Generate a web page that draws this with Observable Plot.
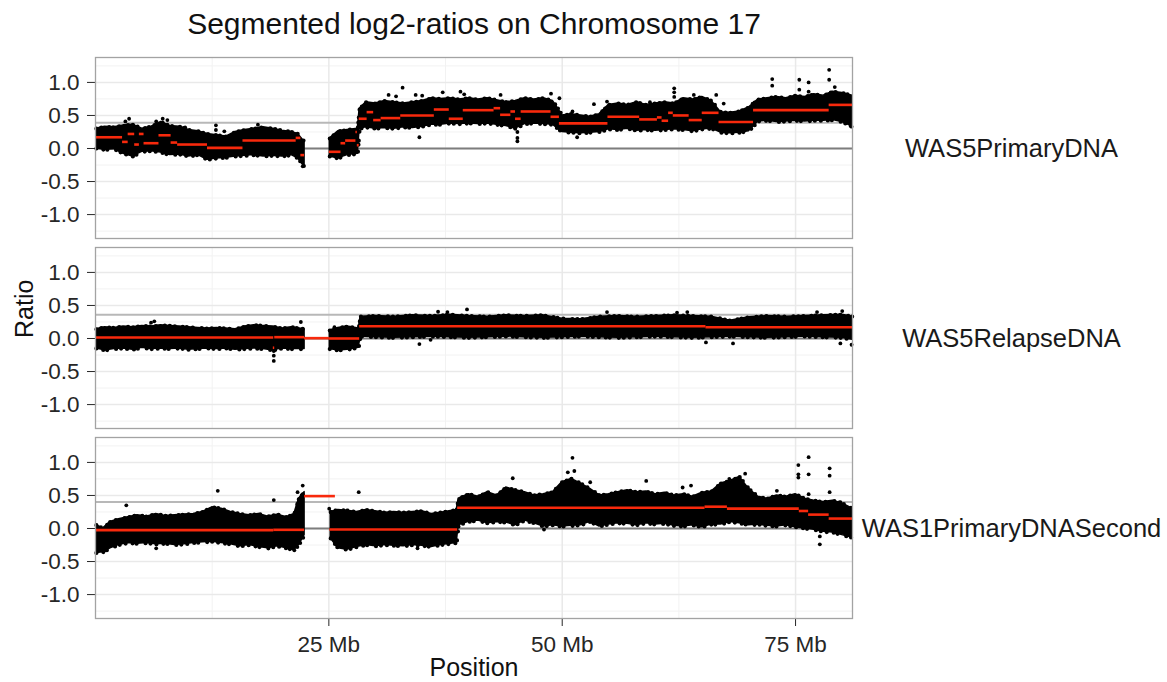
<!DOCTYPE html>
<html><head><meta charset="utf-8">
<script src="https://cdn.jsdelivr.net/npm/d3@7"></script>
<script src="https://cdn.jsdelivr.net/npm/@observablehq/plot@0.6"></script>
<style>body{margin:0;background:#fff}#chart{width:1167px;height:682px}</style>
</head><body><div id="chart"></div>
<script>
const titleText = "Segmented log2-ratios on Chromosome 17";
const xLabel = "Position";
const yLabel = "Ratio";
const samples = ["WAS5PrimaryDNA", "WAS5RelapseDNA", "WAS1PrimaryDNASecond"];
const xTicks = [25, 50, 75];
const yTicks = [-1, -0.5, 0, 0.5, 1];
const thresholds = [0.39, 0.36, 0.40];

// point-cloud envelope per sample: [Mb, upper edge, lower edge]; p arm and q arm
const primaryP = [[0.1,0.30,0.00],[1,0.33,-0.02],[2,0.32,-0.01],[3,0.35,-0.08],[4,0.36,-0.12],[5,0.30,-0.05],[6,0.33,-0.04],[7,0.40,-0.06],[8,0.34,-0.10],[9,0.33,-0.09],[10,0.28,-0.12],[11,0.26,-0.10],[12,0.22,-0.17],[13,0.20,-0.15],[14,0.18,-0.14],[15,0.25,-0.12],[16,0.28,-0.11],[17,0.30,-0.10],[18,0.32,-0.12],[19,0.30,-0.11],[20,0.27,-0.12],[21,0.25,-0.10],[21.7,0.22,-0.15],[22.4,0.10,-0.28]];
const primaryQ = [[25.1,0.15,-0.12],[26,0.26,-0.15],[27,0.28,-0.10],[28.1,0.30,-0.08],[28.3,0.60,0.30],[29,0.70,0.32],[30,0.68,0.30],[31,0.72,0.31],[32,0.70,0.30],[33,0.68,0.32],[34,0.70,0.31],[35,0.72,0.33],[36,0.76,0.36],[37,0.75,0.36],[38,0.76,0.38],[39,0.74,0.37],[40,0.76,0.38],[41,0.74,0.37],[42,0.76,0.38],[43,0.73,0.36],[44,0.70,0.34],[45,0.72,0.30],[46,0.76,0.37],[47,0.74,0.38],[48,0.76,0.37],[49,0.72,0.36],[49.8,0.55,0.27],[50,0.50,0.25],[51,0.52,0.24],[52,0.50,0.23],[53,0.48,0.24],[54,0.52,0.25],[55,0.66,0.29],[56,0.68,0.28],[57,0.66,0.30],[58,0.70,0.27],[59,0.66,0.28],[60,0.68,0.27],[61,0.70,0.28],[62,0.68,0.29],[63,0.76,0.28],[64,0.74,0.26],[65,0.78,0.29],[66,0.72,0.30],[67,0.55,0.24],[68,0.54,0.23],[69,0.56,0.24],[70,0.62,0.26],[71,0.74,0.41],[72,0.76,0.42],[73,0.78,0.40],[74,0.76,0.41],[75,0.80,0.42],[76,0.78,0.41],[77,0.82,0.42],[78,0.80,0.42],[79,0.86,0.43],[80,0.84,0.40],[81.1,0.80,0.33]];
const relapseP = [[0.1,0.14,-0.15],[1,0.17,-0.18],[2,0.16,-0.16],[3,0.18,-0.15],[4,0.17,-0.17],[5,0.19,-0.14],[6,0.18,-0.16],[7,0.20,-0.15],[8,0.19,-0.16],[9,0.18,-0.15],[10,0.17,-0.17],[11,0.16,-0.16],[12,0.15,-0.15],[13,0.16,-0.16],[14,0.15,-0.15],[15,0.14,-0.17],[16,0.18,-0.16],[17,0.20,-0.15],[18,0.19,-0.16],[19,0.18,-0.18],[20,0.15,-0.15],[21,0.17,-0.16],[22.4,0.14,-0.16]];
const relapseQ = [[25.1,0.12,-0.16],[26,0.16,-0.18],[27,0.18,-0.17],[28.2,0.15,-0.14],[28.4,0.33,0.03],[30,0.34,0.02],[32,0.33,0.01],[34,0.35,0.02],[36,0.34,0.03],[38,0.36,0.02],[40,0.34,0.01],[42,0.33,0.02],[44,0.35,0.03],[46,0.34,0.02],[48,0.35,0.01],[50,0.30,0.02],[52,0.29,0.03],[54,0.33,0.02],[56,0.34,0.01],[58,0.33,0.02],[60,0.34,0.03],[62,0.35,0.02],[64,0.34,0.01],[66,0.33,0.02],[68,0.27,0.03],[70,0.32,0.02],[72,0.34,0.01],[74,0.33,0.02],[76,0.34,0.03],[78,0.35,0.02],[80,0.36,0.01],[81.1,0.33,-0.02]];
const secondP = [[0.1,0.05,-0.37],[0.8,0.00,-0.36],[1.6,0.10,-0.30],[2.5,0.14,-0.25],[3.5,0.17,-0.22],[4.5,0.20,-0.23],[5.5,0.18,-0.22],[6.5,0.22,-0.24],[7.5,0.19,-0.23],[8.5,0.20,-0.25],[9.5,0.21,-0.24],[10.5,0.22,-0.22],[11.5,0.25,-0.21],[12.5,0.32,-0.20],[13.5,0.30,-0.22],[14.5,0.25,-0.24],[15.5,0.22,-0.27],[16.5,0.20,-0.25],[17.5,0.22,-0.28],[18.5,0.18,-0.30],[19.5,0.21,-0.27],[20.5,0.17,-0.30],[21.3,0.22,-0.33],[21.8,0.45,-0.25],[22.4,0.55,-0.10]];
const secondQ = [[25.2,0.25,-0.15],[26,0.28,-0.30],[27,0.27,-0.32],[28,0.25,-0.28],[29,0.28,-0.25],[30,0.26,-0.27],[31,0.24,-0.25],[32,0.25,-0.26],[33,0.24,-0.27],[34,0.25,-0.25],[35,0.26,-0.26],[36,0.22,-0.28],[37,0.24,-0.25],[38.7,0.28,-0.22],[38.9,0.45,0.05],[40,0.52,0.10],[41,0.48,0.12],[42,0.55,0.08],[43,0.50,0.10],[44,0.62,0.09],[45,0.58,0.05],[46,0.55,0.12],[47,0.50,0.08],[48,0.52,0.03],[49,0.55,0.05],[50,0.70,0.03],[51,0.75,0.04],[52,0.68,0.05],[53,0.60,0.10],[54,0.50,0.03],[55,0.52,0.06],[56,0.55,0.08],[57,0.58,0.07],[58,0.55,0.05],[59,0.56,0.08],[60,0.52,0.06],[61,0.54,0.07],[62,0.50,0.04],[63,0.52,0.03],[64,0.48,0.05],[65,0.54,0.02],[66,0.56,0.06],[67,0.68,0.06],[68,0.72,0.10],[69,0.78,0.08],[70,0.60,0.05],[71,0.48,0.06],[72,0.45,0.04],[73,0.50,0.03],[74,0.48,0.05],[75,0.52,0.02],[76,0.45,0.00],[77,0.42,-0.02],[78,0.40,-0.05],[79,0.42,-0.06],[80,0.38,-0.10],[81.1,0.30,-0.14]];

// isolated probes outside the dense cloud: [Mb, ratio]
const primaryOut = [[3.6,0.45],[3.2,0.41],[6.5,0.41],[7.2,0.45],[7.7,0.43],[9.6,0.32],[12.9,0.35],[12.9,0.28],[13.8,0.26],[17.4,0.36],[22.2,-0.27],[32.9,0.92],[31.4,0.81],[32.2,0.79],[34.3,0.81],[35.0,0.80],[34.7,0.17],[37.2,0.85],[39.1,0.86],[39.5,0.82],[43.4,0.81],[45.2,0.11],[45.2,0.16],[45.2,0.25],[48.8,0.83],[49.7,0.76],[51.1,0.56],[51.6,0.17],[53.4,0.67],[54.8,0.71],[59.4,0.70],[62.0,0.91],[62.0,0.85],[62.0,0.78],[64.1,0.81],[64.1,0.73],[66.5,0.81],[67.3,0.68],[70.4,0.68],[72.5,1.05],[72.5,0.95],[75.4,1.04],[75.4,0.89],[76.4,1.00],[76.4,0.86],[78.6,1.19],[78.6,1.04],[79.2,0.93],[81.0,0.33]];
const relapseOut = [[6.3,0.26],[5.95,0.24],[19.1,-0.19],[19.1,-0.26],[19.1,-0.34],[22.0,0.25],[25.6,0.17],[36.7,0.405],[37.7,0.40],[39.8,0.44],[34.7,-0.085],[35.9,-0.02],[54.8,0.40],[62.3,0.39],[63.4,0.40],[65.4,-0.06],[68.3,-0.075],[77.3,0.40],[80.0,0.415],[79.8,-0.075],[81.0,-0.095]];
const secondOut = [[13.1,0.57],[19.1,0.43],[3.3,0.35],[6.5,-0.30],[21.65,0.55],[22.2,0.65],[22.2,0.52],[25.04,0.30],[25.2,0.25],[28.2,0.55],[21.3,-0.33],[44.7,0.76],[51.1,1.07],[51.3,0.87],[50.6,0.85],[53.0,0.70],[59.0,0.72],[62.9,0.62],[63.8,0.65],[67.9,0.75],[69.6,0.83],[73.0,0.57],[75.3,0.96],[75.3,0.82],[75.3,0.77],[76.4,1.08],[76.4,0.82],[76.4,0.52],[77.6,-0.12],[77.6,-0.24],[78.65,0.91],[78.65,0.80],[78.65,0.55],[79.8,0.40],[48.05,-0.015],[34.5,-0.30]];

// segmented means: [start Mb, end Mb, mean]
const primarySeg = [[0.05,2.9,0.17],[2.9,3.5,0.10],[3.5,4.2,0.22],[4.2,4.7,0.06],[4.7,5.2,0.22],[5.2,6.8,0.08],[6.8,8.1,0.20],[8.1,8.8,0.09],[8.8,12.0,0.06],[12.0,15.8,0.01],[15.8,21.5,0.12],[21.5,22.0,0.16],[22.0,22.4,-0.10],[25.05,26.3,-0.05],[26.3,26.8,0.08],[26.8,27.9,0.12],[27.9,28.05,0.25],[28.05,28.25,0.05],[28.25,29.1,0.45],[29.1,29.8,0.55],[29.8,30.6,0.43],[30.6,32.7,0.46],[32.7,36.3,0.50],[36.3,37.9,0.59],[37.9,39.4,0.45],[39.4,42.7,0.58],[42.7,43.4,0.61],[43.4,44.5,0.51],[44.5,45.0,0.56],[45.0,45.6,0.45],[45.6,48.8,0.56],[48.8,49.7,0.48],[49.7,54.9,0.38],[54.9,58.3,0.48],[58.3,60.2,0.44],[60.2,60.7,0.47],[60.7,61.4,0.42],[61.4,61.9,0.54],[61.9,63.6,0.50],[63.6,65.0,0.43],[65.0,66.8,0.54],[66.8,70.5,0.40],[70.5,78.6,0.58],[78.6,81.1,0.66]];
const relapseSeg = [[0.05,19.1,0.015],[19.05,19.2,-0.14],[19.2,22.4,0.02],[22.4,25.05,0.005],[25.05,28.3,0.0],[28.3,65.4,0.185],[65.4,81.1,0.17]];
const secondSeg = [[0.05,19.1,-0.025],[19.1,22.4,-0.02],[22.4,25.7,0.49],[25.1,38.8,-0.015],[38.8,65.3,0.315],[65.3,67.7,0.33],[67.7,75.4,0.30],[75.4,76.4,0.265],[76.4,78.6,0.21],[78.6,81.1,0.15]];

const clouds = [[primaryP, primaryQ], [relapseP, relapseQ], [secondP, secondQ]];
const outs = [primaryOut, relapseOut, secondOut];
const segs = [primarySeg, relapseSeg, secondSeg];

const cloudRows = [], outRows = [], segRows = [];
samples.forEach((s, i) => {
  clouds[i].forEach((arm, a) => arm.forEach(([pos, hi, lo]) => cloudRows.push({sample: s, part: s + a, pos, hi, lo})));
  outs[i].forEach(([pos, v]) => outRows.push({sample: s, pos, v}));
  segs[i].forEach(([x1, x2, v]) => segRows.push({sample: s, x1, x2, v}));
});
const threshRows = samples.map((s, i) => ({sample: s, t: thresholds[i]}));

const red = "#f8290c";
const plot = Plot.plot({
  width: 1167, height: 682,
  marginLeft: 95, marginRight: 315, marginTop: 56, marginBottom: 63,
  style: {fontFamily: "'Liberation Sans', Arial, sans-serif", fontSize: "22.5px", color: "#262626", background: "#fff"},
  x: {domain: [0, 81.1], ticks: xTicks, tickFormat: d => `${d} Mb`, tickSize: 8, tickPadding: 10, label: null},
  y: {domain: [-1.362, 1.377], ticks: yTicks, tickFormat: d => d.toFixed(1), tickSize: 8, tickPadding: 8, label: null},
  fy: {domain: samples, axis: null, label: null, paddingInner: 0.05, paddingOuter: 0},
  marks: [
    Plot.ruleY([-1.25, -0.75, -0.25, 0.25, 0.75, 1.25], {stroke: "#f2f2f2", strokeWidth: 1}),
    Plot.ruleX([12.5, 37.5, 62.5], {stroke: "#f2f2f2", strokeWidth: 1}),
    Plot.ruleY(yTicks, {stroke: "#e9e9e9", strokeWidth: 1.5}),
    Plot.ruleX(xTicks, {stroke: "#e9e9e9", strokeWidth: 1.5}),
    Plot.ruleY(threshRows, {y: "t", fy: "sample", stroke: "#b8b8b8", strokeWidth: 2}),
    Plot.ruleY([0], {stroke: "#7d7d7d", strokeWidth: 1.8}),
    Plot.areaY(cloudRows, {x: "pos", y1: "lo", y2: "hi", z: "part", fy: "sample", fill: "#000", stroke: "#000", strokeWidth: 1.5, strokeLinejoin: "round"}),
    Plot.line(cloudRows, {x: "pos", y: "hi", z: "part", fy: "sample", stroke: "#000", strokeWidth: 4.2, strokeDasharray: "0,5,0,8,0,4,0,6,0,9,0,5", strokeLinecap: "round"}),
    Plot.line(cloudRows, {x: "pos", y: "lo", z: "part", fy: "sample", stroke: "#000", strokeWidth: 4.2, strokeDasharray: "0,7,0,4,0,9,0,5,0,6", strokeLinecap: "round"}),
    Plot.dot(outRows, {x: "pos", y: "v", fy: "sample", r: 1.9, fill: "#000"}),
    Plot.ruleY(segRows, {x1: "x1", x2: "x2", y: "v", fy: "sample", stroke: red, strokeWidth: 2.6}),
    Plot.frame({stroke: "#a3a3a3", strokeWidth: 1.3}),
    Plot.text(samples, {fy: d => d, text: d => d, frameAnchor: "right", dx: 159, dy: 1, textAnchor: "middle", lineAnchor: "middle", fontSize: 25.5, fill: "#1a1a1a"}),
    Plot.text([{s: samples[0], t: titleText}], {fy: "s", text: "t", frameAnchor: "top", lineAnchor: "middle", dy: -33, fontSize: 30, fill: "#111"}),
    Plot.text([{s: samples[2], t: xLabel}], {fy: "s", text: "t", frameAnchor: "bottom", lineAnchor: "middle", dy: 49, fontSize: 25, fill: "#111"}),
    Plot.text([{s: samples[1], t: yLabel}], {fy: "s", text: "t", frameAnchor: "left", lineAnchor: "middle", dx: -71, rotate: -90, fontSize: 25, fill: "#111"})
  ]
});
document.getElementById("chart").appendChild(plot);
</script>
</body></html>
